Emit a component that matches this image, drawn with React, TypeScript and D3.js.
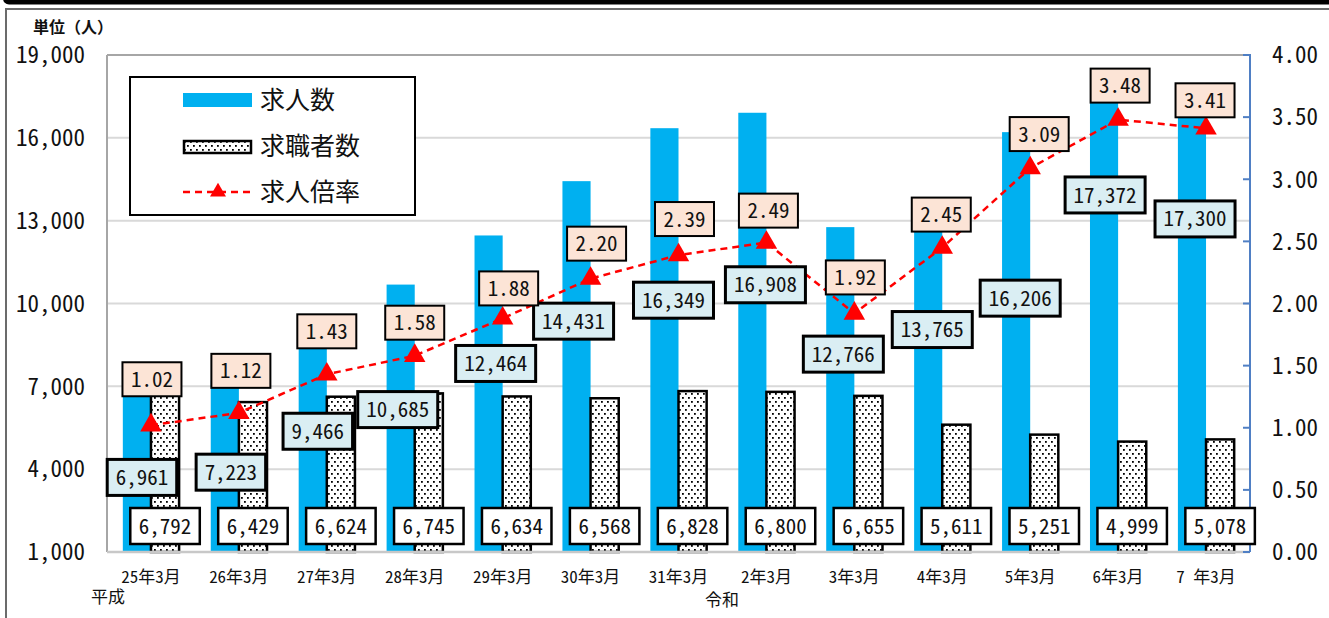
import React from "react";
import * as d3 from "d3";

// ---- data ----
const categories = ["25年3月", "26年3月", "27年3月", "28年3月", "29年3月", "30年3月", "31年3月", "2年3月", "3年3月", "4年3月", "5年3月", "6年3月", "7 年3月"];
const jobOffers = [6961, 7223, 9466, 10685, 12464, 14431, 16349, 16908, 12766, 13765, 16206, 17372, 17300];
const jobSeekers = [6792, 6429, 6624, 6745, 6634, 6568, 6828, 6800, 6655, 5611, 5251, 4999, 5078];
const ratios = [1.02, 1.12, 1.43, 1.58, 1.88, 2.2, 2.39, 2.49, 1.92, 2.45, 3.09, 3.48, 3.41];
const leftTicks = [1000, 4000, 7000, 10000, 13000, 16000, 19000];
const rightTicks = [0, 0.5, 1, 1.5, 2, 2.5, 3, 3.5, 4];
const seriesNames = ["求人数", "求職者数", "求人倍率"];
const unitLabel = "単位（人）";
const eraLabels = ["平成", "令和"];

// ---- label nudges (layout, px) ----
const offerLabelDx = [-9, -8, -9, -17, -7, -17, -5, -1, -11, -10, -10, -13, -11];
const offerLabelDy = [90, 92, 113, 125, 128, 140, 172, 172, 127, 130, 166, 95, 117];
const ratioLabelDx = [1, 2, 0, 0, 6, 6, 6, 2, 1, -1, 9, 2, -1];
const ratioLabelDy = [-46, -42, -43, -33, -30, -35, -36, -32, -36, -33, -34, -34, -28];

const W = 1329;
const H = 618;
const L = 107, R = 1250, T = 55, B = 552;
const FONT = "'Noto Sans CJK JP', 'Noto Sans', sans-serif";
const hw: React.CSSProperties = { fontFeatureSettings: '"hwid"' };

const fmtInt = d3.format(",");
const fmt2 = d3.format(".2f");

function Label({ cx, cy, text, fill, stroke, sw, h }: { cx: number; cy: number; text: string; fill: string; stroke: string; sw: number; h: number }) {
  const w = text.length * 10.5 + 17;
  return (
    <g>
      <rect x={cx - w / 2} y={cy - h / 2} width={w} height={h} fill={fill} stroke={stroke} strokeWidth={sw} />
      <text x={cx} y={cy} dy="0.36em" textAnchor="middle" fontSize={21} fontFamily={FONT} style={hw} fill="#111">
        {text}
      </text>
    </g>
  );
}

export default function App() {
  const x = d3.scaleBand<string>().domain(categories).range([L, R]).padding(0);
  const yL = d3.scaleLinear().domain([1000, 19000]).range([B, T]);
  const yR = d3.scaleLinear().domain([0, 4]).range([B, T]);
  const bw = x.bandwidth() * 0.32;
  const cx = (c: string) => (x(c) as number) + x.bandwidth() / 2;

  const line = d3
    .line<number>()
    .x((_, i) => cx(categories[i]))
    .y((d) => yR(d));
  const tri = d3.symbol().type(d3.symbolTriangle).size(200)() as string;
  const triSmall = d3.symbol().type(d3.symbolTriangle).size(110)() as string;

  return (
    <svg width={W} height={H} style={{ position: "absolute", left: 0, top: 0, background: "#fff" }} fontFamily={FONT}>
      <defs>
        <pattern id="dots" width={6} height={8} patternUnits="userSpaceOnUse">
          <rect width={6} height={8} fill="#fff" />
          <rect x={1} y={1} width={1.8} height={1.8} fill="#000" />
          <rect x={4} y={5} width={1.8} height={1.8} fill="#000" />
        </pattern>
      </defs>

      {/* frame */}
      <rect x={3} y={-12} width={W + 10} height={16.5} rx={6} fill="#000" />
      <rect x={6} y={9} width={W + 20} height={H + 20} fill="none" stroke="#6b6b6b" strokeWidth={2} />

      {/* gridlines */}
      {leftTicks.map((t) => (
        <line key={t} x1={L} x2={R} y1={yL(t)} y2={yL(t)} stroke={t === 19000 ? "#a6a6a6" : "#d9d9d9"} strokeWidth={t === 1000 ? 0 : 2} />
      ))}

      {/* bars */}
      {jobOffers.map((v, i) => (
        <rect key={"o" + i} x={cx(categories[i]) - bw} y={yL(v)} width={bw} height={B - yL(v)} fill="#00b0f0" />
      ))}
      {jobSeekers.map((v, i) => (
        <rect key={"s" + i} x={cx(categories[i])} y={yL(v)} width={bw} height={B - yL(v)} fill="url(#dots)" stroke="#000" strokeWidth={2.5} />
      ))}

      {/* axes lines */}
      <line x1={L} x2={L} y1={T} y2={B} stroke="#a6a6a6" strokeWidth={2} />
      <line x1={L} x2={R} y1={B} y2={B} stroke="#c8c8c8" strokeWidth={2.5} />
      <line x1={R} x2={R} y1={T - 1} y2={B} stroke="#4f7fc4" strokeWidth={2} />
      {rightTicks.map((t) => (
        <line key={t} x1={R - 7} x2={R} y1={yR(t)} y2={yR(t)} stroke="#4f7fc4" strokeWidth={2} />
      ))}

      {/* ratio line */}
      <path d={line(ratios) as string} fill="none" stroke="#ff0000" strokeWidth={2.5} strokeDasharray="7 5" />
      {ratios.map((r, i) => (
        <path key={"t" + i} d={tri} transform={`translate(${cx(categories[i])},${yR(r)})`} fill="#ff0000" />
      ))}

      {/* data labels */}
      {jobOffers.map((v, i) => (
        <Label key={"ol" + i} cx={cx(categories[i]) + offerLabelDx[i]} cy={yL(v) + offerLabelDy[i]} text={fmtInt(v)} fill="#daeef3" stroke="#000" sw={3} h={36} />
      ))}
      {jobSeekers.map((v, i) => (
        <Label key={"sl" + i} cx={cx(categories[i]) + bw / 2} cy={B - 26} text={fmtInt(v)} fill="#fff" stroke="#000" sw={2.5} h={36} />
      ))}
      {ratios.map((r, i) => (
        <Label key={"rl" + i} cx={cx(categories[i]) + ratioLabelDx[i]} cy={yR(r) + ratioLabelDy[i]} text={fmt2(r)} fill="#fce4d6" stroke="#000" sw={2} h={34} />
      ))}

      {/* left tick labels */}
      {leftTicks.map((t) => (
        <text key={"lt" + t} x={85} y={yL(t)} dy="0.36em" textAnchor="end" fontSize={23} style={hw} fill="#111">
          {fmtInt(t)}
        </text>
      ))}
      {/* right tick labels */}
      {rightTicks.map((t) => (
        <text key={"rt" + t} x={1272} y={yR(t)} dy="0.36em" textAnchor="start" fontSize={23} style={hw} fill="#111">
          {fmt2(t)}
        </text>
      ))}
      {/* x labels */}
      {categories.map((c) => (
        <text key={"x" + c} x={cx(c)} y={577} dy="0.36em" textAnchor="middle" fontSize={17} style={hw} fill="#111">
          {c}
        </text>
      ))}
      <text x={108} y={597} dy="0.36em" textAnchor="middle" fontSize={17} fill="#111">{eraLabels[0]}</text>
      <text x={722} y={600} dy="0.36em" textAnchor="middle" fontSize={17} fill="#111">{eraLabels[1]}</text>
      <text x={33} y={27} dy="0.36em" fontSize={16} fontWeight="bold" fill="#111">{unitLabel}</text>

      {/* legend */}
      <rect x={130} y={77} width={285} height={138} fill="#fff" stroke="#000" strokeWidth={2} />
      <rect x={183} y={93} width={69} height={14} fill="#00b0f0" />
      <text x={260} y={100} dy="0.36em" fontSize={25} fill="#111">{seriesNames[0]}</text>
      <rect x={184} y={141} width={67} height={12} fill="url(#dots)" stroke="#000" strokeWidth={2.5} />
      <text x={260} y={146} dy="0.36em" fontSize={25} fill="#111">{seriesNames[1]}</text>
      <line x1={183} x2={252} y1={192} y2={192} stroke="#ff0000" strokeWidth={2.5} strokeDasharray="7 5" />
      <path d={triSmall} transform="translate(218,192)" fill="#ff0000" />
      <text x={260} y={192} dy="0.36em" fontSize={25} fill="#111">{seriesNames[2]}</text>
    </svg>
  );
}
